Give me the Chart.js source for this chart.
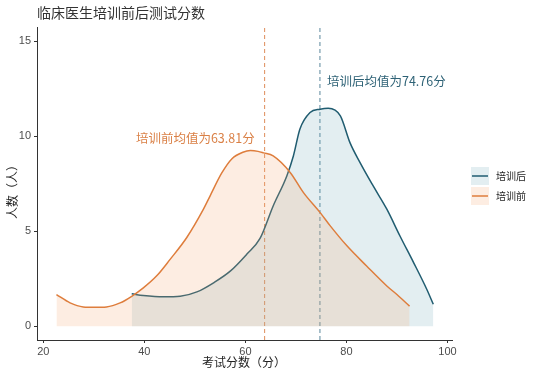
<!DOCTYPE html>
<html>
<head>
<meta charset="utf-8">
<script src="https://cdn.jsdelivr.net/npm/chart.js@4"></script>
<style>
  html, body { margin: 0; padding: 0; background: #fff; }
  #wrap { width: 554px; height: 377px; }
</style>
</head>
<body>
<div id="wrap"><canvas id="myChart"></canvas></div>
<script>
// score (x) and density-like count (y)
const beforeX = [22.6, 25.3, 27.9, 30.2, 32.5, 35.2, 37.5, 39.8, 42.4, 45.1, 48.4, 51.7, 53.0, 55.3, 57.3, 59.5, 61.0, 62.5, 63.6, 65.5, 68.9, 71.5, 74.8, 76.8, 80.1, 84.0, 88.0, 90.0, 92.5];
const beforeY = [1.67, 1.23, 1.02, 1.00, 1.02, 1.23, 1.58, 2.02, 2.64, 3.52, 4.67, 6.16, 6.85, 8.05, 8.80, 9.15, 9.24, 9.20, 9.12, 8.96, 8.08, 7.03, 5.98, 5.28, 4.23, 3.17, 2.12, 1.67, 1.06];

const afterX = [37.5, 39.8, 43.8, 47.1, 50.4, 53.7, 57.0, 60.3, 62.9, 65.5, 68.2, 69.5, 70.8, 72.8, 74.8, 76.4, 78.8, 80.7, 82.7, 85.3, 88.0, 90.6, 93.3, 95.9, 97.2];
const afterY = [1.71, 1.62, 1.55, 1.58, 1.81, 2.29, 2.90, 3.80, 4.62, 6.33, 7.91, 8.96, 10.37, 11.24, 11.42, 11.47, 11.07, 9.66, 8.61, 7.38, 6.16, 4.75, 3.35, 1.95, 1.16];

const seriesNames = ["培训后", "培训前"];
const meanBefore = 63.81;
const meanAfter = 74.76;
const xTicks = [20, 40, 60, 80, 100];
const yTicks = [0, 5, 10, 15];

const orange = 'rgb(222,125,60)';
const orangeFill = 'rgba(244,164,110,0.2)';
const teal = 'rgb(32,92,112)';
const tealFill = 'rgba(100,160,180,0.18)';

function pts(xs, ys) {
    return xs.map((x, i) => ({ x: x, y: ys[i] }));
}

const textPlugin = {
    id: 'texts',
    afterDraw(chart) {
        const ctx = chart.ctx;
        const xs = chart.scales.x, ys = chart.scales.y;
        ctx.save();
        // title
        ctx.fillStyle = '#333';
        ctx.font = '14px "Noto Sans CJK SC"';
        ctx.textBaseline = 'middle';
        ctx.textAlign = 'left';
        ctx.fillText('临床医生培训前后测试分数', 37, 13);

        // axis titles
        ctx.fillStyle = '#222';
        ctx.font = '12px "Noto Sans CJK SC"';
        ctx.textAlign = 'center';
        ctx.fillText('考试分数（分）', 244, 362);
        ctx.save();
        ctx.translate(12, 189);
        ctx.rotate(-Math.PI / 2);
        ctx.fillText('人数（人）', 0, 0);
        ctx.restore();

        // mean labels
        ctx.font = '12.5px "Noto Sans CJK SC"';
        ctx.textAlign = 'left';
        ctx.fillStyle = 'rgb(46,98,118)';
        ctx.fillText('培训后均值为' + meanAfter + '分', xs.getPixelForValue(meanAfter) + 7, ys.getPixelForValue(12.9));
        ctx.fillStyle = 'rgb(218,128,70)';
        ctx.textAlign = 'right';
        ctx.fillText('培训前均值为' + meanBefore + '分', xs.getPixelForValue(meanBefore) - 10, ys.getPixelForValue(9.9));

        // legend
        const fills = [tealFill, orangeFill];
        const lines = [teal, orange];
        const rowsY = [176, 196];
        ctx.font = '10px "Noto Sans CJK SC"';
        ctx.textAlign = 'left';
        for (let i = 0; i < 2; i++) {
            const cy = rowsY[i];
            ctx.fillStyle = '#fff';
            ctx.fillRect(471, cy - 9, 18, 18);
            ctx.fillStyle = fills[i];
            ctx.fillRect(471, cy - 9, 18, 18);
            ctx.strokeStyle = lines[i];
            ctx.lineWidth = 1.5;
            ctx.beginPath();
            ctx.moveTo(472, cy);
            ctx.lineTo(488, cy);
            ctx.stroke();
            ctx.fillStyle = '#222';
            ctx.fillText(seriesNames[i], 496, cy);
        }
        ctx.restore();
    }
};

const yMin = -0.72, yMax = 15.74;

const config = {
    type: 'line',
    data: {
        datasets: [
            {
                label: seriesNames[1],
                data: pts(beforeX, beforeY),
                borderColor: orange,
                backgroundColor: orangeFill,
                borderWidth: 1.5,
                fill: 'origin',
                pointRadius: 0,
                cubicInterpolationMode: 'monotone'
            },
            {
                label: seriesNames[0],
                data: pts(afterX, afterY),
                borderColor: teal,
                backgroundColor: tealFill,
                borderWidth: 1.5,
                fill: 'origin',
                pointRadius: 0,
                cubicInterpolationMode: 'monotone'
            },
            {
                label: 'meanBefore',
                data: [{ x: meanBefore, y: yMin }, { x: meanBefore, y: yMax }],
                borderColor: 'rgb(222,140,90)',
                borderWidth: 1,
                borderDash: [4, 3],
                pointRadius: 0,
                fill: false
            },
            {
                label: 'meanAfter',
                data: [{ x: meanAfter, y: yMin }, { x: meanAfter, y: yMax }],
                borderColor: 'rgb(90,135,155)',
                borderWidth: 1,
                borderDash: [4, 3],
                pointRadius: 0,
                fill: false
            }
        ]
    },
    options: {
        responsive: true,
        maintainAspectRatio: false,
        animation: false,
        layout: { padding: { left: 0, right: 102, top: 27, bottom: 0 } },
        plugins: {
            legend: { display: false },
            title: { display: false },
            tooltip: { enabled: false }
        },
        scales: {
            x: {
                type: 'linear',
                min: 18.75,
                max: 100.9,
                afterFit: function (s) { s.height = 37; },
                afterBuildTicks: function (s) { s.ticks = xTicks.map(v => ({ value: v })); },
                grid: { drawOnChartArea: false, drawTicks: true, tickLength: 3, color: '#333' },
                border: { display: true, color: '#333', width: 1 },
                ticks: { color: '#4d4d4d', font: { family: 'Liberation Sans', size: 11 }, padding: 2, maxRotation: 0 }
            },
            y: {
                type: 'linear',
                min: yMin,
                max: yMax,
                afterFit: function (s) { s.width = 37; },
                afterBuildTicks: function (s) { s.ticks = yTicks.map(v => ({ value: v })); },
                grid: { drawOnChartArea: false, drawTicks: true, tickLength: 3, color: '#333' },
                border: { display: true, color: '#333', width: 1 },
                ticks: { color: '#4d4d4d', font: { family: 'Liberation Sans', size: 11 }, padding: 3 }
            }
        }
    },
    plugins: [textPlugin]
};

var myChart = new Chart(document.getElementById('myChart'), config);
</script>
</body>
</html>
